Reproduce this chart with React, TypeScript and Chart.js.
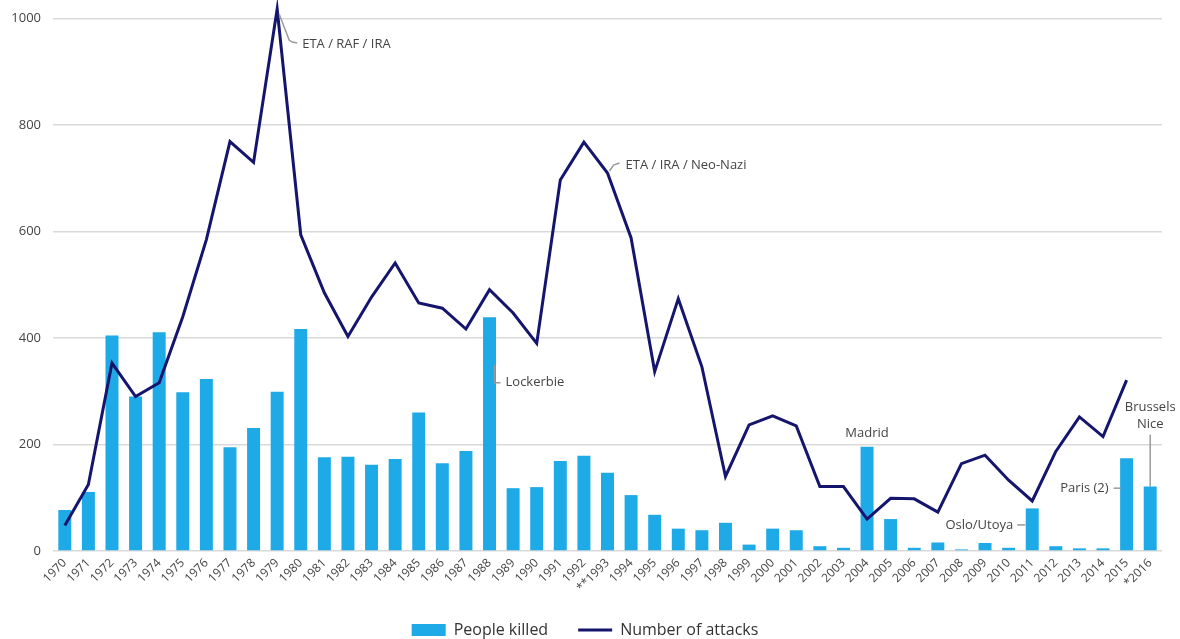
import React, { useEffect, useRef } from 'react';
import { Chart, registerables } from 'chart.js';

Chart.register(...registerables);

const years = [
  '1970', '1971', '1972', '1973', '1974', '1975', '1976', '1977', '1978', '1979',
  '1980', '1981', '1982', '1983', '1984', '1985', '1986', '1987', '1988', '1989',
  '1990', '1991', '1992', '**1993', '1994', '1995', '1996', '1997', '1998', '1999',
  '2000', '2001', '2002', '2003', '2004', '2005', '2006', '2007', '2008', '2009',
  '2010', '2011', '2012', '2013', '2014', '2015', '*2016',
];

const peopleKilled = [
  77, 111, 405, 290, 411, 298, 323, 195, 231, 299,
  417, 176, 177, 162, 173, 260, 165, 188, 439, 118,
  120, 169, 179, 147, 105, 68, 42, 39, 53, 12,
  42, 39, 9, 6, 196, 60, 6, 16, 3, 15,
  6, 80, 9, 5, 5, 174, 121,
];

const numberOfAttacks: (number | null)[] = [
  48, 125, 353, 290, 316, 440, 585, 769, 730, 1018,
  594, 485, 403, 477, 541, 466, 456, 417, 491, 447,
  390, 697, 768, 710, 588, 337, 474, 346, 140, 237,
  254, 235, 121, 121, 60, 99, 98, 73, 164, 180,
  133, 94, 187, 252, 215, 321, null,
];

const yTicks = [0, 200, 400, 600, 800, 1000];

const seriesNames = ['People killed', 'Number of attacks'];

type Note = {
  lines: string[];
  index: number;
  value: number;
  dx: number;
  dy: number;
  align: 'left' | 'right' | 'center';
  leader?: number[][];
  leaderToValue?: number;
};

const notes: Note[] = [
  { lines: ['ETA / RAF / IRA'], index: 9, value: 1018, dx: 25, dy: 35, align: 'left', leader: [[2, 5], [12, 31], [15, 33], [20, 34]] },
  { lines: ['ETA / IRA / Neo-Nazi'], index: 23, value: 710, dx: 18, dy: -8, align: 'left', leader: [[2, -2], [6, -8], [12, -10]] },
  { lines: ['Lockerbie'], index: 18, value: 316, dx: 16, dy: 0, align: 'left', leader: [[5, -18], [5, 0], [11, 0]] },
  { lines: ['Madrid'], index: 34, value: 222, dx: 0, dy: 0, align: 'center' },
  { lines: ['Oslo/Utoya'], index: 41, value: 49, dx: -19, dy: 0, align: 'right', leader: [[-15, 0], [-7, 0]] },
  { lines: ['Paris (2)'], index: 45, value: 118, dx: -18, dy: 0, align: 'right', leader: [[-13, 0], [-6, 0]] },
  { lines: ['Brussels', 'Nice'], index: 46, value: 269, dx: 0, dy: 0, align: 'center', leaderToValue: 121 },
];

const FONT = '"Open Sans", "Noto Sans", sans-serif';
const BAR_COLOR = '#1eaae7';
const LINE_COLOR = '#15156e';

const notesPlugin = {
  id: 'notes',
  afterDatasetsDraw(chart: any) {
    const { ctx } = chart;
    const xs = chart.scales.x;
    const ys = chart.scales.y;
    ctx.save();
    ctx.font = `13px ${FONT}`;
    ctx.fillStyle = '#444';
    ctx.strokeStyle = '#9a9a9a';
    ctx.lineWidth = 1.5;
    ctx.textBaseline = 'middle';
    for (const n of notes) {
      const ax = xs.getPixelForValue(n.index);
      const ay = ys.getPixelForValue(n.value);
      if (n.leader) {
        ctx.beginPath();
        n.leader.forEach((p, i) => {
          if (i === 0) ctx.moveTo(ax + p[0], ay + p[1]);
          else ctx.lineTo(ax + p[0], ay + p[1]);
        });
        ctx.stroke();
      }
      if (n.leaderToValue !== undefined) {
        const lineH = 17;
        ctx.beginPath();
        ctx.moveTo(ax, ay + (n.lines.length - 1) * lineH + 10);
        ctx.lineTo(ax, ys.getPixelForValue(n.leaderToValue));
        ctx.stroke();
      }
      ctx.textAlign = n.align;
      n.lines.forEach((t, i) => {
        ctx.fillText(t, ax + n.dx, ay + n.dy + i * 17);
      });
    }
    ctx.restore();
  },
};

export default function App() {
  const ref = useRef<HTMLCanvasElement | null>(null);

  useEffect(() => {
    if (!ref.current) return;
    const chart = new Chart(ref.current, {
      type: 'bar',
      data: {
        labels: years,
        datasets: [
          {
            type: 'bar',
            label: seriesNames[0],
            data: peopleKilled,
            backgroundColor: BAR_COLOR,
            borderWidth: 0,
            barPercentage: 0.55,
            categoryPercentage: 1,
            order: 1,
          },
          {
            type: 'line',
            label: seriesNames[1],
            data: numberOfAttacks,
            borderColor: LINE_COLOR,
            backgroundColor: LINE_COLOR,
            borderWidth: 3,
            pointRadius: 0,
            pointHitRadius: 0,
            tension: 0,
            clip: false,
            order: 0,
          } as any,
        ],
      },
      options: {
        animation: false,
        responsive: false,
        layout: { padding: { left: 8, right: 18, top: 0, bottom: -9 } },
        plugins: {
          tooltip: { enabled: false },
          legend: {
            position: 'bottom',
            labels: {
              font: { family: FONT, size: 16 },
              color: '#333',
              usePointStyle: true,
              pointStyleWidth: 34,
              boxHeight: 12,
              padding: 30,
              sort: (a: any, b: any) => a.datasetIndex - b.datasetIndex,
              generateLabels: (c: any) => {
                const items = Chart.defaults.plugins.legend.labels.generateLabels(c);
                return items.map((it: any) => {
                  if (it.datasetIndex === 0) {
                    return { ...it, pointStyle: 'rect', fillStyle: BAR_COLOR, strokeStyle: BAR_COLOR, lineWidth: 0 };
                  }
                  return { ...it, pointStyle: 'line', strokeStyle: LINE_COLOR, lineWidth: 3 };
                });
              },
            },
          },
        },
        scales: {
          x: {
            grid: { display: false, drawTicks: false },
            border: { display: false },
            ticks: {
              autoSkip: false,
              minRotation: 45,
              maxRotation: 45,
              padding: 5,
              color: '#444',
              font: { family: FONT, size: 12 },
            },
            afterFit: (s: any) => { s.height = 41; },
          },
          y: {
            min: 0,
            max: 1035,
            grid: { color: '#d9d9d9', lineWidth: 1.5, drawTicks: false },
            border: { display: false },
            ticks: {
              padding: 12,
              color: '#444',
              font: { family: FONT, size: 13 },
              callback: (v: any) => String(v),
            },
            afterBuildTicks: (s: any) => { s.ticks = yTicks.map((v) => ({ value: v })); },
            afterFit: (s: any) => { s.width = 45; s.paddingTop = 0; s.paddingBottom = 0; },
          },
        },
      },
      plugins: [notesPlugin],
    } as any);
    return () => chart.destroy();
  }, []);

  return (
    <div style={{ position: 'absolute', left: 0, top: 0, width: 1180, height: 639, background: '#fff' }}>
      <canvas ref={ref} width={1180} height={639} />
    </div>
  );
}
